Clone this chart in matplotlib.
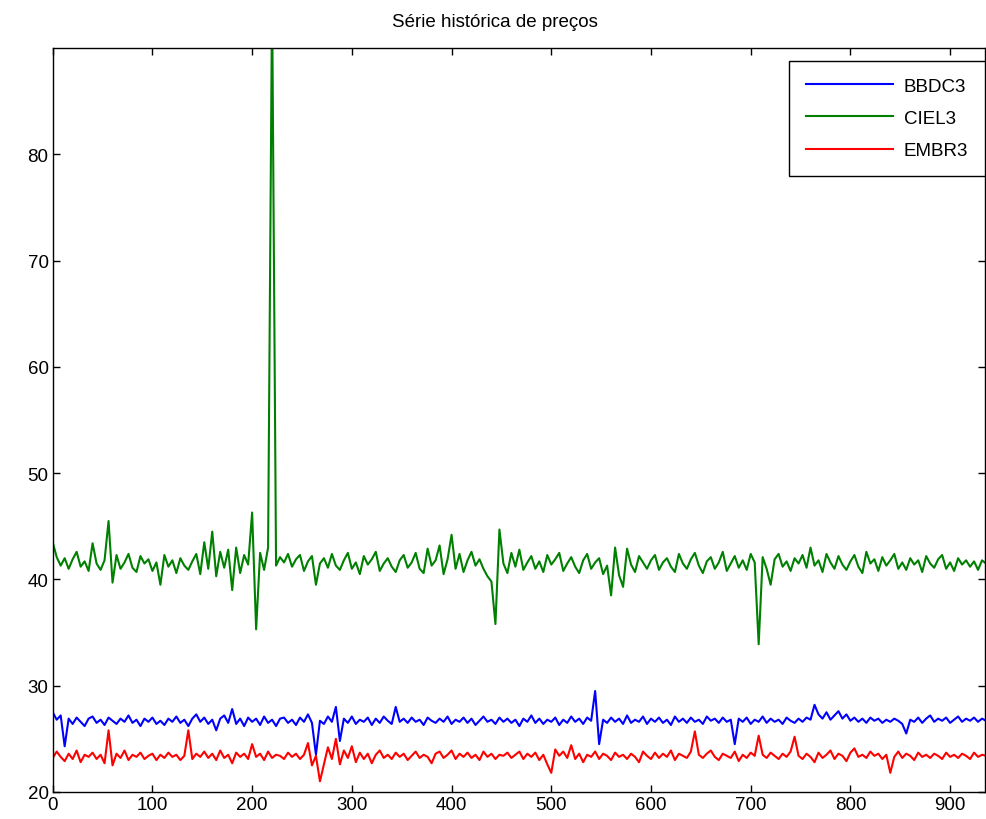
import numpy as np
import matplotlib
matplotlib.use('Agg')
import matplotlib.pyplot as plt

# valores, um ponto a cada 4 dias
passo = 4
bbdc3 = [27.5, 26.8, 27.2, 24.3, 26.9, 26.4, 27.0, 26.6, 26.2, 26.9,
         27.1, 26.5, 26.8, 26.3, 27.0, 26.7, 26.4, 26.9, 26.6, 27.2,
         26.5, 26.8, 26.2, 26.9, 26.6, 27.0, 26.4, 26.7, 26.3, 26.9,
         26.6, 27.1, 26.5, 26.8, 26.2, 26.9, 27.3, 26.6, 27.0, 26.4,
         26.8, 25.8, 26.9, 27.2, 26.5, 27.8, 26.4, 26.9, 26.2, 27.0,
         26.6, 26.9, 26.3, 27.1, 26.5, 26.8, 26.2, 26.9, 27.0, 26.5,
         26.8, 26.3, 27.0, 26.6, 27.3, 26.5, 23.5, 26.7, 26.4, 27.1,
         26.6, 28.0, 24.8, 26.9, 26.5, 27.1, 26.4, 26.8, 26.6, 27.0,
         26.3, 26.9, 26.5, 27.1, 26.7, 26.4, 28.0, 26.6, 26.9, 26.5,
         27.0, 26.6, 26.8, 26.3, 27.0, 26.7, 26.5, 26.9, 26.6, 27.1,
         26.4, 26.8, 26.6, 27.0, 26.5, 26.9, 26.3, 26.7, 27.1, 26.6,
         26.8, 26.4, 27.0, 26.6, 26.9, 26.5, 26.8, 26.2, 26.9, 26.6,
         27.2, 26.5, 26.9, 26.4, 26.8, 26.6, 27.0, 26.3, 26.8, 26.5,
         27.1, 26.6, 26.9, 26.4, 27.0, 26.7, 29.5, 24.5, 26.8, 26.5,
         27.0, 26.6, 26.9, 26.4, 27.2, 26.5, 26.8, 26.6, 27.1, 26.4,
         26.9, 26.6, 27.0, 26.5, 26.8, 26.3, 27.1, 26.6, 26.9, 26.5,
         27.0, 26.6, 26.8, 26.4, 27.1, 26.7, 26.9, 26.5, 27.0, 26.6,
         26.8, 24.5, 26.9, 26.6, 27.0, 26.4, 26.8, 26.6, 27.1, 26.5,
         26.9, 26.6, 26.8, 26.4, 27.0, 26.7, 26.5, 26.9, 26.6, 27.0,
         26.8, 28.2, 27.3, 26.9, 27.5, 26.8, 27.2, 27.6, 26.9, 27.3,
         26.7, 27.0, 26.6, 26.9, 26.5, 27.0, 26.7, 26.9, 26.5, 26.8,
         26.6, 26.9, 26.7, 26.4, 25.5, 26.8, 26.6, 27.0, 26.5, 26.9,
         27.2, 26.6, 26.9, 26.7, 27.0, 26.5, 26.8, 27.1, 26.6, 26.9,
         26.7, 27.0, 26.6, 26.9, 26.7]

ciel3 = [43.5, 42.1, 41.3, 42.0, 41.0, 41.9, 42.6, 41.2, 41.7, 40.8,
         43.4, 41.5, 40.9, 41.8, 45.5, 39.7, 42.3, 41.0, 41.6, 42.4,
         41.1, 40.7, 42.2, 41.5, 41.9, 40.8, 41.6, 39.5, 42.3, 41.2,
         41.8, 40.6, 42.0, 41.3, 40.9, 41.7, 42.4, 40.5, 43.5, 41.0,
         44.5, 40.3, 42.6, 41.1, 42.8, 39.0, 43.0, 40.6, 42.3, 41.4,
         46.3, 35.3, 42.5, 40.9, 43.0, 95.0, 41.3, 42.1, 41.6, 42.4,
         41.2, 41.9, 42.3, 40.8, 41.7, 42.2, 39.5, 41.5, 42.0, 41.1,
         42.4, 41.3, 40.9, 41.8, 42.5, 41.0, 41.6, 40.5, 42.2, 41.4,
         41.9, 42.6, 40.8, 41.5, 42.0, 41.2, 40.7, 41.8, 42.3, 41.1,
         41.6, 42.5, 41.0, 40.6, 42.9, 41.3, 41.8, 43.2, 40.5, 41.9,
         44.2, 41.0, 42.4, 40.7, 41.8, 42.6, 41.3, 41.9, 41.0, 40.3,
         39.8, 35.8, 44.7, 41.5, 40.6, 42.5, 41.2, 42.8, 40.9, 41.6,
         42.2, 41.0, 41.7, 40.7, 42.3, 41.4, 41.9, 42.5, 40.8, 41.5,
         42.1, 41.2, 40.6, 41.8, 42.4, 41.0, 41.6, 42.0, 40.5, 41.3,
         38.5, 43.0, 40.4, 39.3, 42.9, 41.4, 40.7, 42.2, 41.6, 41.0,
         41.8, 42.3, 40.9, 41.6, 42.0, 41.2, 40.7, 42.4, 41.5, 41.0,
         41.9, 42.5, 41.3, 40.6, 41.7, 42.1, 41.0, 41.6, 42.6, 40.8,
         41.5, 42.2, 41.1, 41.8, 40.9, 42.4, 41.6, 33.9, 42.1, 41.0,
         39.5, 41.9, 42.4, 41.2, 41.7, 40.8, 42.0, 41.5, 42.3, 41.1,
         43.0, 41.3, 41.8, 40.7, 42.4, 41.6, 41.0, 42.2, 41.4, 40.9,
         41.7, 42.3, 41.2, 40.6, 42.6, 41.5, 41.9, 40.8, 42.1, 41.3,
         41.8, 42.4, 41.0, 41.6, 40.9, 42.0, 41.4, 41.8, 40.7, 42.2,
         41.5, 41.1, 41.9, 42.3, 41.0, 41.6, 40.8, 42.0, 41.4, 41.8,
         41.2, 41.7, 40.9, 41.8, 41.5]

embr3 = [23.2, 23.8, 23.3, 22.9, 23.6, 23.1, 23.9, 22.8, 23.5, 23.3,
         23.7, 23.1, 23.5, 22.7, 25.8, 22.5, 23.6, 23.2, 23.9, 23.0,
         23.5, 23.3, 23.7, 23.1, 23.4, 23.6, 23.0, 23.5, 23.2, 23.7,
         23.3, 23.5, 23.0, 23.4, 25.8, 23.1, 23.6, 23.3, 23.8, 23.2,
         23.6, 23.0, 23.9, 23.2, 23.5, 22.7, 23.7, 23.3, 23.6, 23.1,
         24.5, 23.3, 23.6, 23.0, 23.8, 23.2, 23.5, 23.4, 23.1, 23.7,
         23.3, 23.6, 23.1, 23.5, 24.6, 22.5, 23.4, 21.0, 22.6, 24.2,
         23.1, 25.0, 22.6, 23.9, 23.2, 24.3, 22.8, 23.7, 23.1, 23.6,
         22.7, 23.5, 23.9, 23.2, 23.5, 23.1, 23.7, 23.3, 23.6, 23.0,
         23.4, 23.8, 23.2, 23.5, 23.3, 22.7, 23.6, 23.8, 23.2, 23.5,
         23.9, 23.1, 23.6, 23.3, 23.7, 23.2, 23.5, 23.0, 23.8, 23.3,
         23.6, 23.1, 23.5, 23.4, 23.7, 23.2, 23.5, 23.8, 23.1, 23.6,
         23.3, 23.7, 23.0, 23.5, 22.6, 21.8, 24.0, 23.4, 23.8, 23.2,
         24.4, 23.1, 23.6, 22.8, 23.5, 23.3, 23.8, 23.1, 23.6, 23.4,
         23.0, 23.7, 23.3, 23.5, 23.1, 23.6, 23.3, 22.8, 23.8, 23.4,
         23.1, 23.7, 23.2, 23.6, 23.3, 23.9, 23.0, 23.6, 23.4, 23.2,
         23.8, 25.7, 23.5, 23.2, 23.6, 23.9, 23.3, 23.0, 23.6, 23.4,
         23.2, 23.8, 22.9, 23.5, 23.2, 23.7, 23.4, 25.3, 23.5, 23.2,
         23.7, 23.4, 23.1, 23.6, 23.3, 23.8, 25.2, 23.4, 23.1, 23.6,
         23.3, 22.8, 23.7, 23.2, 23.5, 23.9, 23.1, 23.6, 23.4, 22.9,
         23.7, 24.1, 23.3, 23.5, 23.2, 23.8, 23.4, 23.6, 23.1, 23.5,
         21.8, 23.3, 23.8, 23.2, 23.6, 23.4, 23.0, 23.7, 23.3, 23.5,
         23.2, 23.6, 23.4, 23.1, 23.7, 23.3, 23.5, 23.2, 23.6, 23.4,
         23.1, 23.7, 23.3, 23.5, 23.4]

nomes = ['BBDC3', 'CIEL3', 'EMBR3']
cores = ['#0000ff', '#008000', '#ff0000']

dias = np.arange(len(bbdc3)) * passo

plt.rcParams['font.family'] = ['Liberation Sans', 'DejaVu Sans']

fig = plt.figure(figsize=(9.87, 8.2), dpi=100)
ax = fig.add_axes([0.0534, 0.033, 0.9446, 0.907])

for serie, nome, cor in zip([bbdc3, ciel3, embr3], nomes, cores):
    ax.plot(dias, serie, color=cor, linewidth=1.5, label=nome)

ax.set_xlim(0, 935)
ax.set_ylim(20, 90)
ax.set_xticks(range(0, 901, 100))
ax.set_yticks(range(20, 81, 10))
ax.tick_params(direction='in', top=True, right=True, length=5, width=1,
               labelsize=13.5, pad=3)
for s in ax.spines.values():
    s.set_linewidth(1)
ax.set_title('Série histórica de preços', fontsize=13.5, pad=16, x=0.474)

leg = ax.legend(loc='upper right', bbox_to_anchor=(1.0, 0.983),
                borderaxespad=0, fontsize=13.5, handlelength=4.6,
                labelspacing=0.8, handletextpad=0.6, borderpad=0.9,
                fancybox=False, framealpha=1)
leg.get_frame().set_edgecolor('black')
leg.get_frame().set_linewidth(1)

fig.savefig('out.png', dpi=100)
